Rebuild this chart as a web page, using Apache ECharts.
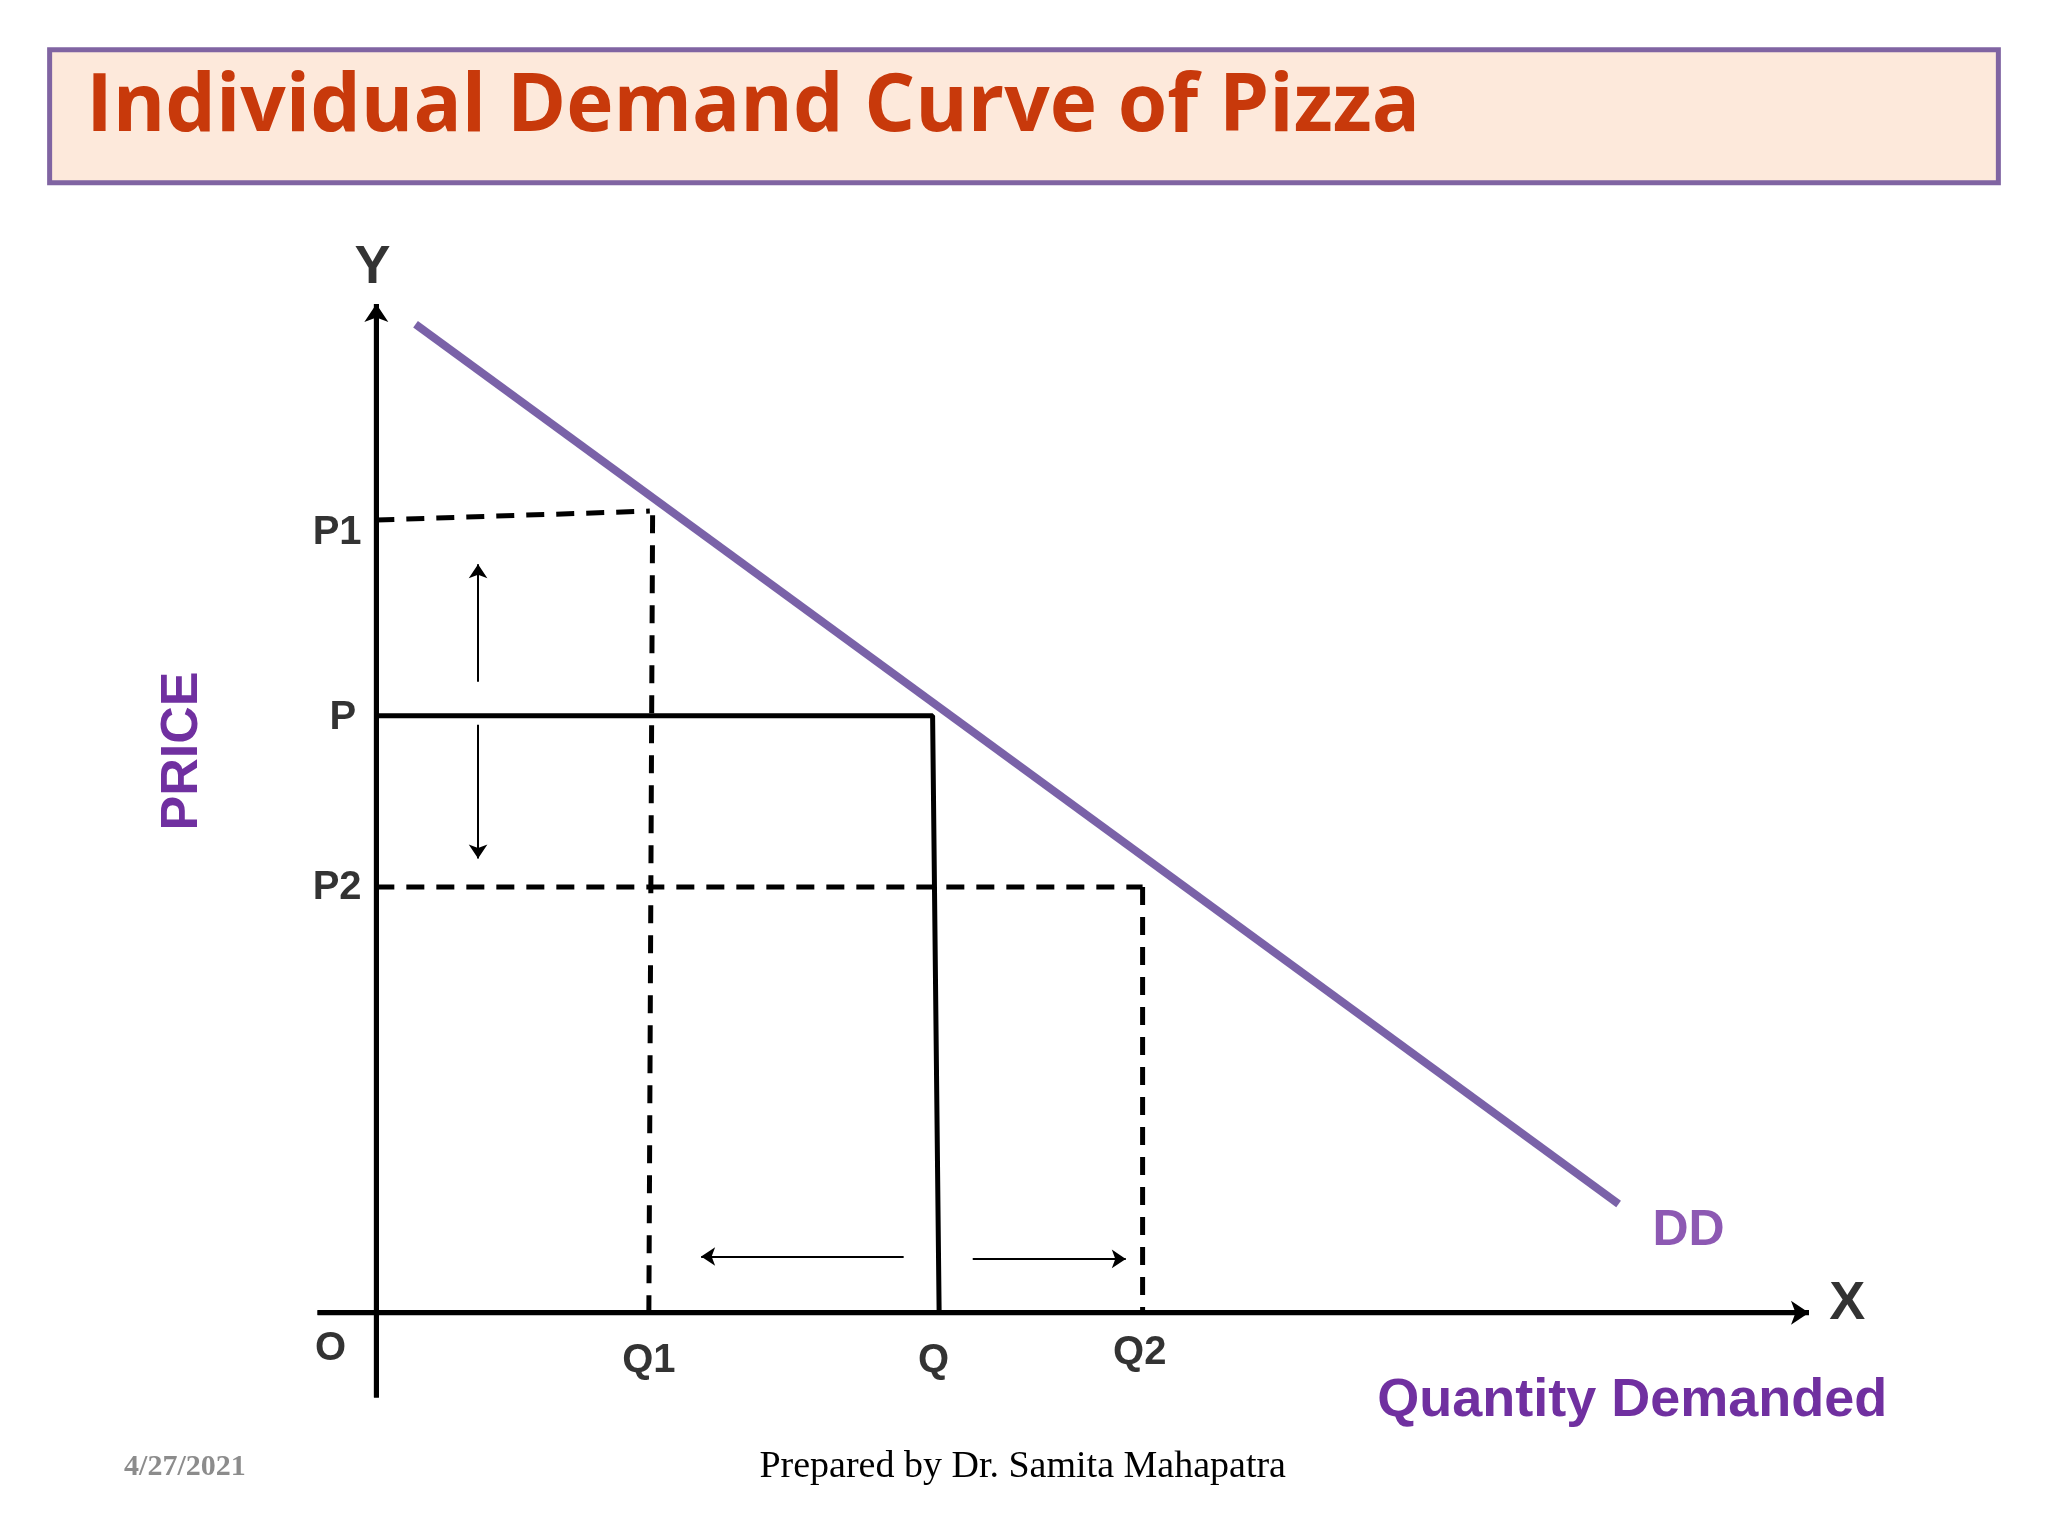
<!DOCTYPE html>
<html>
<head>
<meta charset="utf-8">
<script src="https://cdn.jsdelivr.net/npm/echarts@6/dist/echarts.min.js"></script>
<style>html,body{margin:0;padding:0;background:#fff}#c{width:2048px;height:1536px}</style>
</head>
<body>
<div id="c"></div>
<script>
// points (quantity, price)
var demandLine = [[0.42, 16.56], [13.31, 1.82]];
var axisX = [[-0.63, 0], [15.35, 0]];
var axisY = [[0, -1.42], [0, 16.9]];
var p1Dash = [[[0, 13.28], [2.93, 13.43]], [[2.96, 13.36], [2.92, 0]]];
var p2Dash = [[[0, 7.13], [8.21, 7.13]], [[8.21, 7.13], [8.21, 0]]];
var pSolid = [[0, 10], [5.96, 10], [6.03, 0]];
var arrows = [
  [[1.09, 10.57], [1.09, 12.54]],
  [[1.09, 9.85], [1.09, 7.61]],
  [[5.65, 0.94], [3.48, 0.94]],
  [[6.39, 0.9], [8.03, 0.9]]
];
var tickLabels = [
  ['P1', -0.42, 13.06], ['P', -0.36, 9.96], ['P2', -0.42, 7.11],
  ['O', -0.49, -0.61], ['Q1', 2.92, -0.81], ['Q', 5.97, -0.81], ['Q2', 8.18, -0.68]
];
var bigLabels = [['Y', -0.04, 17.5], ['X', 15.76, 0.15]];
var ddLabel = [['DD', 14.06, 1.36]];

var s = 2048 / 1568;
var chart = echarts.init(document.getElementById('c'));

function seg(pts, color, width, type, arrow) {
  return {
    type: 'line', data: pts, symbol: 'none', silent: true, animation: false,
    lineStyle: { color: color, width: width, type: type || 'solid' },
    markLine: arrow ? {
      silent: true, animation: false, symbol: ['none', 'arrow'], symbolSize: arrow,
      label: { show: false },
      lineStyle: { color: color, width: width, type: 'solid' },
      data: [[{ coord: pts[pts.length - 2] }, { coord: pts[pts.length - 1] }]]
    } : undefined
  };
}
function labels(list, size, color) {
  return {
    type: 'scatter', symbolSize: 0, clip: false, silent: true, animation: false,
    data: list.map(function (d) { return { value: [d[1], d[2]], name: d[0] }; }),
    label: { show: true, position: 'inside', formatter: '{b}',
      fontFamily: 'Liberation Sans', fontWeight: 'bold', fontSize: size, color: color }
  };
}

var series = [];
series.push(seg(axisX, '#000', 5));
series.push(seg(axisY, '#000', 5));
series.push({ type: 'line', data: [], markLine: { silent: true, animation: false, symbol: ['none', 'arrow'], symbolSize: 18, label: { show: false }, lineStyle: { color: '#000', width: 5, type: 'solid' },
  data: [[{ coord: axisX[0] }, { coord: axisX[1] }], [{ coord: axisY[0] }, { coord: axisY[1] }]] } });
p1Dash.forEach(function (p) { series.push(seg(p, '#000', 5, [18, 12])); });
p2Dash.forEach(function (p) { series.push(seg(p, '#000', 5, [18, 12])); });
series.push(seg(pSolid, '#000', 5));
series.push({ type: 'line', data: [], markLine: { silent: true, animation: false, symbol: ['none', 'arrow'], symbolSize: 14, label: { show: false }, lineStyle: { color: '#000', width: 2, type: 'solid' },
  data: arrows.map(function (a) { return [{ coord: a[0] }, { coord: a[1] }]; }) } });
series.push(seg(demandLine, '#7a62a8', 8));
series.push(labels(tickLabels, 40, '#000'));
series.push(labels(bigLabels, 54, '#000'));
series.push(labels(ddLabel, 50, '#7030a0'));

chart.setOption({
  backgroundColor: '#fff',
  grid: { left: 283, right: 225, top: 298, bottom: 104 },
  xAxis: { type: 'value', min: -1, max: 15.5, show: false },
  yAxis: { type: 'value', min: -2, max: 17, show: false },
  graphic: [
    { type: 'rect', shape: { x: 38 * s, y: 38 * s, width: 1492 * s, height: 102 * s },
      style: { fill: '#fde9db', stroke: '#8064a2', lineWidth: 5 } },
    { type: 'text', left: 66 * s, top: 52 * s,
      style: { text: 'Individual Demand Curve of Pizza', fill: '#c8390b',
        font: 'bold 80px "Liberation Sans Narrow", "Open Sans", sans-serif' } },
    { type: 'text', x: 140 * s, y: 575 * s, rotation: Math.PI / 2, originX: 0, originY: 0,
      style: { text: 'PRICE', fill: '#7030a0', align: 'center', verticalAlign: 'middle',
        font: 'bold 52px "Liberation Sans", sans-serif' } },
    { type: 'text', x: 1445 * s, y: 1073 * s,
      style: { text: 'Quantity Demanded', fill: '#7030a0', align: 'right', verticalAlign: 'middle',
        font: 'bold 54px "Liberation Sans", sans-serif' } },
    { type: 'text', x: 95 * s, y: 1123 * s,
      style: { text: '4/27/2021', fill: '#8c8c8c', verticalAlign: 'middle',
        font: 'bold 30px "Liberation Serif", serif' } },
    { type: 'text', x: 783 * s, y: 1123 * s,
      style: { text: 'Prepared by Dr. Samita Mahapatra', fill: '#000', align: 'center', verticalAlign: 'middle',
        font: '38px "Liberation Serif", serif' } }
  ],
  series: series
});
</script>
</body>
</html>
